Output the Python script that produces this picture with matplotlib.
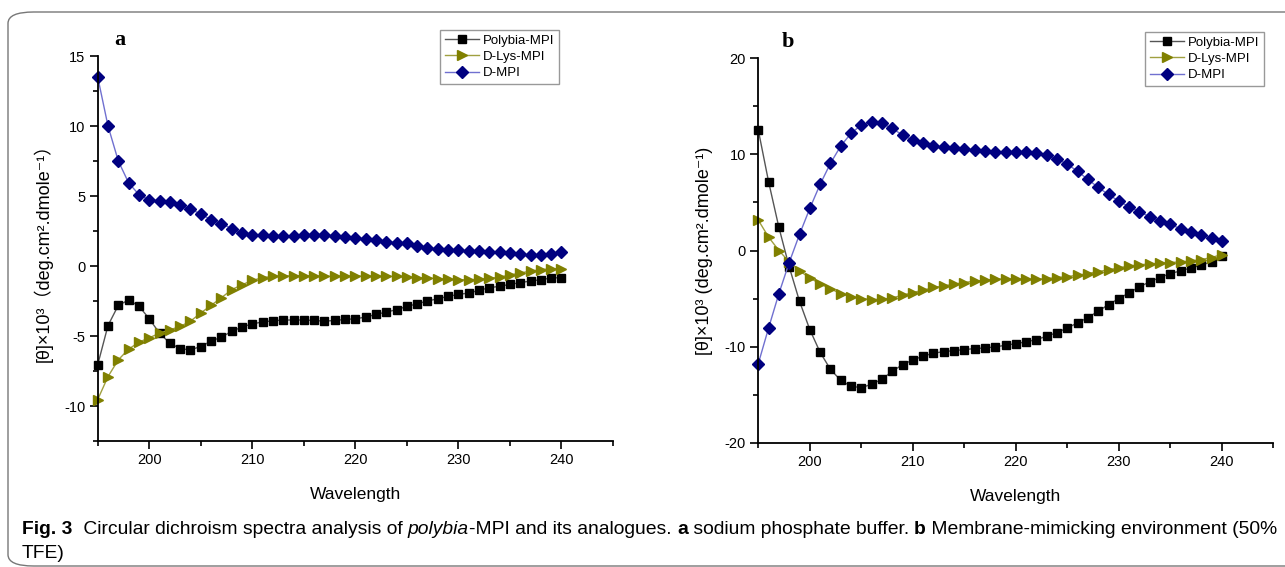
import numpy as np
import matplotlib
matplotlib.use("Agg")
import matplotlib.pyplot as plt
from matplotlib.patches import FancyBboxPatch
from matplotlib.ticker import MultipleLocator

plt.rcParams['font.family'] = ['Liberation Sans', 'Noto Sans CJK SC', 'DejaVu Sans']
plt.rcParams['axes.unicode_minus'] = False

wavelength = np.arange(195, 241)

# panel a: sodium phosphate buffer
polybia_a = [-7.06, -4.25, -2.81, -2.43, -2.86, -3.77, -4.80, -5.51, -5.91, -5.99,
             -5.75, -5.37, -5.08, -4.67, -4.36, -4.13, -4.00, -3.91, -3.86, -3.86,
             -3.86, -3.89, -3.94, -3.89, -3.82, -3.77, -3.65, -3.46, -3.29, -3.12,
             -2.89, -2.70, -2.50, -2.34, -2.17, -2.03, -1.93, -1.74, -1.55, -1.45,
             -1.31, -1.19, -1.07, -0.98, -0.86, -0.83]
dlys_a = [-9.54, -7.90, -6.70, -5.94, -5.44, -5.13, -4.80, -4.56, -4.32, -3.94,
          -3.36, -2.81, -2.27, -1.69, -1.34, -1.03, -0.83, -0.74, -0.72, -0.69,
          -0.69, -0.72, -0.74, -0.74, -0.74, -0.72, -0.72, -0.74, -0.74, -0.74,
          -0.79, -0.83, -0.86, -0.90, -0.95, -0.98, -0.98, -0.95, -0.88, -0.79,
          -0.64, -0.50, -0.36, -0.26, -0.19, -0.19]
dmpi_a = [13.50, 10.00, 7.50, 5.94, 5.10, 4.70, 4.65, 4.58, 4.36, 4.05,
          3.72, 3.30, 3.03, 2.67, 2.36, 2.24, 2.20, 2.17, 2.15, 2.15,
          2.24, 2.24, 2.24, 2.12, 2.05, 2.00, 1.93, 1.84, 1.74, 1.67,
          1.62, 1.43, 1.31, 1.19, 1.17, 1.12, 1.07, 1.05, 1.03, 1.00,
          0.95, 0.83, 0.76, 0.76, 0.83, 1.00]

# panel b: membrane-mimicking environment (50% TFE)
polybia_b = [12.53, 7.15, 2.40, -1.70, -5.28, -8.23, -10.59, -12.36, -13.51, -14.13,
             -14.27, -13.92, -13.40, -12.57, -11.88, -11.39, -11.00, -10.69, -10.52, -10.42,
             -10.31, -10.21, -10.14, -10.03, -9.86, -9.69, -9.51, -9.27, -8.92, -8.54,
             -8.06, -7.53, -6.98, -6.32, -5.63, -5.00, -4.41, -3.78, -3.26, -2.81,
             -2.40, -2.12, -1.81, -1.53, -1.18, -0.59]
dlys_b = [3.16, 1.39, 0.00, -1.18, -2.12, -2.85, -3.47, -3.99, -4.48, -4.79,
          -5.00, -5.10, -5.07, -4.93, -4.65, -4.38, -4.13, -3.85, -3.68, -3.50,
          -3.33, -3.19, -3.09, -2.99, -2.95, -2.95, -2.99, -2.99, -2.92, -2.81,
          -2.71, -2.57, -2.40, -2.19, -2.01, -1.81, -1.60, -1.49, -1.39, -1.32,
          -1.25, -1.18, -1.08, -0.94, -0.73, -0.42]
dmpi_b = [-11.77, -8.06, -4.48, -1.25, 1.67, 4.38, 6.88, 9.06, 10.87, 12.19,
          13.06, 13.40, 13.23, 12.71, 12.01, 11.49, 11.15, 10.90, 10.73, 10.63,
          10.56, 10.45, 10.35, 10.28, 10.24, 10.24, 10.28, 10.17, 9.97, 9.51,
          8.99, 8.23, 7.40, 6.56, 5.83, 5.14, 4.55, 4.03, 3.51, 3.09,
          2.71, 2.26, 1.88, 1.60, 1.28, 0.97]

series_names = ['Polybia-MPI', 'D-Lys-MPI', 'D-MPI']
styles = [
    dict(marker='s', color='#555555', mfc='black', mec='black', ms=6),
    dict(marker='>', color='#a0a040', mfc='#808000', mec='#808000', ms=7),
    dict(marker='D', color='#7070d0', mfc='#000080', mec='#000080', ms=6),
]

W, H = 1285, 567
fig = plt.figure(figsize=(W / 100, H / 100), dpi=100)

# rounded frame around the whole figure (right side runs off the page)
frame = FancyBboxPatch((8 / W, 1 - 566 / H), 1340 / W, 554 / H,
                       boxstyle='round,pad=0,rounding_size=0.02',
                       transform=fig.transFigure, fill=False,
                       ec='#777777', lw=1.0, clip_on=False)
fig.patches.append(frame)


def setup(ax, ylim, ymajor, yminor, ylabel, legend_xy, tag, tag_xy):
    ax.set_xlim(195, 245)
    ax.set_ylim(*ylim)
    ax.xaxis.set_major_locator(MultipleLocator(10))
    ax.xaxis.set_minor_locator(MultipleLocator(5))
    ax.yaxis.set_major_locator(MultipleLocator(ymajor))
    ax.yaxis.set_minor_locator(MultipleLocator(yminor))
    for s in ('top', 'right'):
        ax.spines[s].set_visible(False)
    for s in ('left', 'bottom'):
        ax.spines[s].set_linewidth(1.3)
    ax.tick_params(which='major', direction='out', length=6, width=1.2,
                   labelsize=10.5, pad=3)
    ax.tick_params(which='minor', direction='out', length=3.5, width=1.2)
    ax.set_xticks([200, 210, 220, 230, 240])
    ax.set_xlabel('Wavelength', fontsize=12.5, labelpad=14)
    ax.set_ylabel(ylabel, fontsize=13, labelpad=8)
    leg = ax.legend(loc='upper left', bbox_to_anchor=(legend_xy[0] / W, 1 - legend_xy[1] / H),
                    bbox_transform=fig.transFigure, borderaxespad=0, numpoints=1,
                    fancybox=False, edgecolor='#808080', fontsize=9.5,
                    handlelength=2.6, labelspacing=0.3, borderpad=0.35,
                    handletextpad=0.3)
    leg.get_frame().set_linewidth(1.0)
    fig.text(tag_xy[0] / W, 1 - tag_xy[1] / H, tag, family='Liberation Serif',
             weight='bold', fontsize=16, ha='center', va='center')


ax_a = fig.add_axes([97.7 / W, 1 - 441 / H, (613 - 97.7) / W, (441 - 56) / H])
for name, ys, st in zip(series_names, [polybia_a, dlys_a, dmpi_a], styles):
    ax_a.plot(wavelength, ys, label=name, lw=1.0, clip_on=False, **st)
setup(ax_a, (-12.5, 15), 5, 2.5,
      '[θ]×10³（deg.cm².dmole⁻¹）', (440, 30), 'a', (120, 40))

ax_b = fig.add_axes([758.3 / W, 1 - 442.7 / H, (1273.3 - 758.3) / W, (442.7 - 58.3) / H])
for name, ys, st in zip(series_names, [polybia_b, dlys_b, dmpi_b], styles):
    ax_b.plot(wavelength, ys, label=name, lw=1.0, clip_on=False, **st)
setup(ax_b, (-20, 20), 10, 5,
      '[θ]×10³ (deg.cm².dmole⁻¹)', (1145, 32), 'b', (788, 42))

# caption, built piece by piece so the bold/italic runs line up
cap_size = 13.85
pieces = [
    (' Circular dichroism spectra analysis of ', 'normal', 'normal'),
    ('polybia', 'normal', 'italic'),
    ('-MPI and its analogues. ', 'normal', 'normal'),
    ('a', 'bold', 'normal'),
    (' sodium phosphate buffer. ', 'normal', 'normal'),
    ('b', 'bold', 'normal'),
    (' Membrane-mimicking environment (50%', 'normal', 'normal'),
]
anchor = fig.text(22 / W, 1 - 538 / H, 'Fig. 3 ', weight='bold',
                  fontsize=cap_size, va='bottom', ha='left')
for txt, wt, stl in pieces:
    anchor = ax_a.annotate(txt, xy=(1, 0), xycoords=anchor, va='bottom', ha='left',
                           weight=wt, style=stl, fontsize=cap_size,
                           annotation_clip=False)
fig.text(22 / W, 1 - 562 / H, 'TFE)', fontsize=cap_size, va='bottom', ha='left')

fig.savefig('out.png', dpi=100)
